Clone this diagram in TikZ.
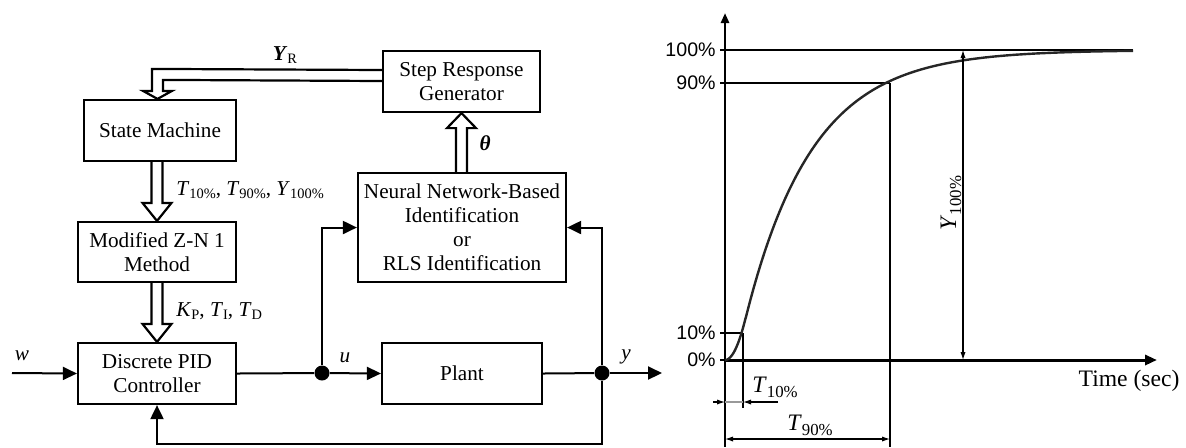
\documentclass[tikz,border=0pt]{standalone}
\usepackage{fontspec}
\setmainfont{Liberation Serif}
\newfontfamily\arialfont{Liberation Sans}
\usetikzlibrary{arrows.meta,calc}
\newcommand\lsub[1]{\raisebox{-0.35ex}{\fontsize{7.2}{8}\selectfont #1}}
\newcommand\gsub[1]{\raisebox{-0.45ex}{\fontsize{8.4}{9}\selectfont #1}}
\begin{document}
\begin{tikzpicture}[x=0.5pt,y=-0.5pt,
  box/.style={draw,line width=1.1pt,align=center,inner sep=0pt,font=\fontsize{10.6}{12}\selectfont},
  hollow/.style={draw,fill=white,line width=1.1pt,line join=miter},
  conn/.style={line width=1pt},
  arr/.style={conn,-{Triangle[length=7pt,width=6.5pt]}},
  dot/.style={circle,fill=black,inner sep=0pt,minimum size=7.5pt},
  lbl/.style={font=\fontsize{10.6}{12}\selectfont,inner sep=0pt},
  thin/.style={line width=0.55pt},
  small/.style={thin,{Latex[length=4pt,width=2.6pt]}-{Latex[length=4pt,width=2.6pt]}},
  pct/.style={anchor=east,inner sep=0pt,font=\arialfont\fontsize{9.8}{11}\selectfont},
  glbl/.style={inner sep=0pt,font=\fontsize{11.8}{13}\selectfont},
  curve/.style={line width=1.2pt,black!85,line join=round}]
\useasboundingbox (0,0) rectangle (1186,447);

% ---------- block diagram ----------
\node[box,minimum width=76pt,minimum height=30.5pt] (sm) at (160,130.5) {State Machine};
\node[box,minimum width=79pt,minimum height=30pt] (zn) at (157,252) {Modified Z-N 1\\Method};
\node[box,minimum width=79pt,minimum height=30.5pt] (pid) at (157,373.5) {Discrete PID\\Controller};
\node[box,minimum width=78.5pt,minimum height=30.5pt] (srg) at (461.5,81.5) {Step Response\\Generator};
\node[box,minimum width=104pt,minimum height=54.5pt] (nn) at (462,227.5) {Neural Network-Based\\Identification\\or\\RLS Identification};
\node[box,minimum width=80pt,minimum height=30.5pt] (plant) at (462,373.5) {Plant};

% hollow arrows
\draw[hollow] ($(srg.west)+(0,-11.5)$) -- ($(sm.north)+(-8,-30)$) -- ($(sm.north)+(-8,-8)$)
  -- ++(-9,0) -- ($(sm.north)+(-2.5,0)$) -- ++(14.5,-8) -- ++(-9,0)
  -- ($(sm.north)+(3,-19)$) -- ($(srg.west)+(0,-0.5)$);
\draw[hollow] ($(zn.north |- sm.south)+(-5.5,0)$) -- ($(zn.north)+(-5.5,-18)$) -- ++(-9,0)
  -- (zn.north) -- ++(14.5,-18) -- ++(-9,0) -- ($(zn.north |- sm.south)+(5.5,0)$);
\draw[hollow] ($(zn.south)+(-5.5,0)$) -- ($(pid.north)+(-5.5,-18)$) -- ++(-9,0)
  -- (pid.north) -- ++(14.5,-18) -- ++(-9,0) -- ($(zn.south)+(5.5,0)$);
\draw[hollow] ($(srg.south |- nn.north)+(-5.5,0)$) -- ($(srg.south)+(-5.5,15)$) -- ++(-9,0)
  -- (srg.south) -- ++(14.5,15) -- ++(-9,0) -- ($(srg.south |- nn.north)+(5.5,0)$);

\node[lbl] (lyr) at (285,55) {\textbf{\textit{Y}}\lsub{R}};
\node[lbl,anchor=west] (lt) at (176,190) {\textit{T}\lsub{10\%}, \textit{T}\lsub{90\%}, \textit{Y}\lsub{100\%}};
\node[lbl,anchor=west] (lk) at (176,311) {\textit{K}\lsub{P}, \textit{T}\lsub{I}, \textit{T}\lsub{D}};
\node[lbl] (lth) at (485,143) {\textbf{\textit{θ}}};

% signal lines
\node[dot] (du) at (322,373) {};
\node[dot] (dy) at (602,373) {};
\coordinate (win) at (12,373);
\coordinate (yout) at (662,373);
\draw[arr] (win) -- (pid.west);
\draw[conn] (pid.east) -- (du);
\draw[arr] (du) -- (plant.west);
\draw[conn] (plant.east) -- (dy);
\draw[arr] (dy) -- (yout);
\draw[arr] (du) |- (nn.west);
\draw[arr] (dy) |- (nn.east);
\draw[arr] (dy) -- ++(0,71) -| (pid.south);
\node[lbl] (lw) at (22,356) {\textit{w}};
\node[lbl] (lu) at (345,358) {\textit{u}};
\node[lbl] (ly) at (626,357) {\textit{y}};

% ---------- step response graph ----------
\coordinate (O) at (725,360);
\draw[line width=1.3pt,-{Triangle[length=5pt,width=4pt]}] (O) -- (725,13);
\draw[thin] (O) -- (725,447);
\draw[line width=1.5pt,-{Triangle[length=6pt,width=5pt]}] (O) -- (1157,360);
\draw[thin] (720,360) -- (O);
\draw[thin] (720,50) -- (1133,50);
\draw[thin] (720,83) -- (890,83);
\draw[thin] (720,333) -- (743,333);
\draw[thin] (890,83) -- (890,447);
\draw[thin] (743,333) -- (743,408);
\draw[curve] plot[domain=0:20.6,samples=25] ({725+\x},{360-310*0.000316*\x*\x})
  -- plot[domain=20.6:408,samples=160] ({725+\x},{360-310*(1-exp(-(\x-10.95)/66.9))});
\draw[small] (963,360) -- (963,50);
\draw[thin,-{Latex[length=4pt,width=2.6pt]}] (713,402) -- (725,402);
\draw[thin,black!40] (725,402) -- (743,402);
\draw[thin,-{Latex[length=4pt,width=2.6pt]}] (778,402) -- (743,402);
\draw[small] (725,439) -- (890,439);

\node[pct] (p100) at (716,50) {100\%};
\node[pct] (p90) at (716,83) {90\%};
\node[pct] (p10) at (716,333) {10\%};
\node[pct] (p0) at (716,360) {0\%};
\node[glbl,rotate=90] (ly100) at (951,203) {\textit{Y}\gsub{100\%}};
\node[glbl] (lt10) at (775,387) {\textit{T}\gsub{10\%}};
\node[glbl] (lt90) at (810,425) {\textit{T}\gsub{90\%}};
\node[glbl] (ltime) at (1129,381) {Time (sec)};
\end{tikzpicture}
\end{document}
